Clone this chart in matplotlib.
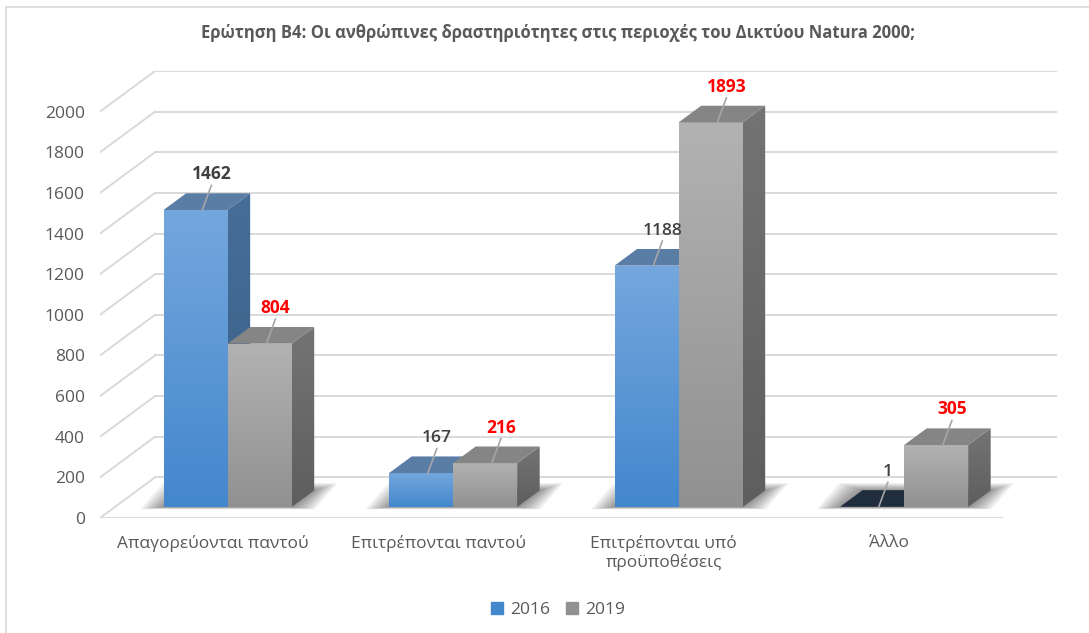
import numpy as np
import matplotlib.pyplot as plt
from matplotlib.patches import Polygon
from matplotlib.colors import LinearSegmentedColormap
from matplotlib.lines import Line2D

plt.rcParams['font.family'] = ['Open Sans', 'DejaVu Sans']

# --- Data ---
categories = ['Απαγορεύονται παντού', 'Επιτρέπονται παντού',
              'Επιτρέπονται υπό\nπροϋποθέσεις', 'Άλλο']
years = ['2016', '2019']
vals_2016 = [1462, 167, 1188, 1]
vals_2019 = [804, 216, 1893, 305]
y_ticks = list(range(0, 2001, 200))

title = 'Ερώτηση Β4: Οι ανθρώπινες δραστηριότητες στις περιοχές του Δικτύου Natura 2000;'

# --- Fake 3D geometry (oblique projection in data units) ---
DX, DY = 0.244, 200      # shift of the back wall relative to the front plane
D0, D1 = 0.27, 0.68      # depth range occupied by the bars
W = 0.284                # bar width (category units)

# face colours: (front top, front bottom, side top, side bottom, top face)
blue = ('#74A7DD', '#4387CD', '#466E99', '#3A5E86', '#5A7DA6')
grey = ('#B2B2B2', '#919191', '#747474', '#5E5E5E', '#858585')
label_colors = ['#404040', '#FF0000']
label_weights_2016 = ['bold', 'semibold', 'semibold', 'semibold']
text_gray = '#595959'
grid_col = '#D9D9D9'

W_PX, H_PX = 1089, 633
fig = plt.figure(figsize=(W_PX / 100, H_PX / 100), dpi=100)
ax = fig.add_axes([100 / W_PX, (H_PX - 518) / H_PX,
                   (1057 - 100) / W_PX, (518 - 71) / H_PX])
ax.set_xlim(-0.5, 3.5 + DX)
ax.set_ylim(0, 2000 + DY)
for s in ax.spines.values():
    s.set_visible(False)

# chart frame (top and left edges only visible)
fig.add_artist(Line2D([6 / W_PX, 1], [1 - 7 / H_PX, 1 - 7 / H_PX], color=grid_col, lw=1.2))
fig.add_artist(Line2D([6 / W_PX, 6 / W_PX], [0, 1 - 7 / H_PX], color=grid_col, lw=1.2))

# back wall, left wall and floor lines
x0, x1 = -0.5, len(categories) - 0.5
for v in y_ticks:
    ax.plot([x0 + DX, x1 + DX], [v + DY, v + DY], color=grid_col, lw=1.4, zorder=1)
    ax.plot([x0, x0 + DX], [v, v + DY], color=grid_col, lw=1.4, zorder=1)
ax.plot([x0, x1], [0, 0], color=grid_col, lw=1.4, zorder=1)


def grad_poly(verts, c_top, c_bot, z):
    poly = Polygon(verts, closed=True, facecolor='none', edgecolor='none', zorder=z)
    ax.add_patch(poly)
    xs, ys = zip(*verts)
    cmap = LinearSegmentedColormap.from_list('g', [c_bot, c_top])
    im = ax.imshow(np.linspace(0, 1, 128).reshape(-1, 1), cmap=cmap, origin='lower',
                   extent=(min(xs), max(xs), min(ys), max(ys)), aspect='auto',
                   interpolation='bilinear', zorder=z)
    im.set_clip_path(poly)


def shadow(xl, xr, z):
    # soft floor shadow: stacked, slightly growing translucent footprints
    for k in range(10):
        p = 0.005 + k * 0.011
        q = k * 4
        verts = [(xl - p + D0 * DX, D0 * DY - q * 0.3), (xr + p + D0 * DX, D0 * DY - q * 0.3),
                 (xr + p + D1 * DX, D1 * DY + q), (xl - p + D1 * DX, D1 * DY + q)]
        ax.add_patch(Polygon(verts, closed=True, facecolor='black', edgecolor='none',
                             alpha=0.05, zorder=z))


def draw_bar(x, v, cols, z):
    x_b = x + D0 * DX
    bottom = D0 * DY
    ddx, ddy = (D1 - D0) * DX, (D1 - D0) * DY
    bar = ax.bar(x_b, v, W, bottom=bottom, align='edge', color='none', zorder=z)[0]
    bx, by, bw, bh = bar.get_x(), bar.get_y(), bar.get_width(), bar.get_height()
    grad_poly([(bx, by), (bx + bw, by), (bx + bw, by + bh), (bx, by + bh)],
              cols[0], cols[1], z)
    # right side face
    xr = bx + bw
    grad_poly([(xr, by), (xr + ddx, by + ddy),
               (xr + ddx, by + ddy + bh), (xr, by + bh)], cols[2], cols[3], z)
    # top face
    top_col = '#1F2D3D' if v < 20 else cols[4]
    ax.add_patch(Polygon([(bx, by + bh), (xr, by + bh),
                          (xr + ddx, by + bh + ddy), (bx + ddx, by + bh + ddy)],
                         closed=True, facecolor=top_col, edgecolor='none', zorder=z + 0.1))


for i in range(len(categories)):
    shadow(i - W, i + W, 2)

z = 3
for i in range(len(categories)):
    for j, (vals, cols) in enumerate(((vals_2016, blue), (vals_2019, grey))):
        x = i - W + j * W
        v = vals[i]
        draw_bar(x, v, cols, z)
        z += 1
        # data label with leader line
        dm = (D0 + D1) / 2
        cx = x + W / 2 + dm * DX
        cy = v + dm * DY
        ax.plot([cx - 0.02, cx + 0.02], [cy - 40, cy + 80], color='#A6A6A6', lw=1.2, zorder=20)
        weight = label_weights_2016[i] if j == 0 else 'bold'
        ax.text(cx + 0.02, cy + 90, str(v), ha='center', va='bottom', fontsize=12.5,
                color=label_colors[j], fontweight=weight, zorder=21)

# axes ticks
ax.set_yticks(y_ticks)
ax.set_yticklabels([str(v) for v in y_ticks], fontsize=12.5, color=text_gray)
ax.set_xticks(range(len(categories)))
ax.set_xticklabels(categories, fontsize=12.5, color=text_gray, linespacing=1.2)
ax.tick_params(axis='y', length=0, pad=11)
ax.tick_params(axis='x', length=0, pad=12)

fig.text(558 / W_PX, 1 - 33 / H_PX, title, ha='center', va='center', fontsize=12,
         fontweight='bold', color=text_gray)

# legend
handles = [plt.Rectangle((0, 0), 1, 1, color=blue[1]), plt.Rectangle((0, 0), 1, 1, color=grey[1])]
fig.legend(handles, years, loc='center', bbox_to_anchor=(558 / W_PX, 1 - 610 / H_PX),
           ncol=2, frameon=False, fontsize=12.5, handlelength=0.7, handleheight=0.7,
           handletextpad=0.4, columnspacing=0.9, labelcolor=text_gray)

fig.savefig('out.png', dpi=100)
